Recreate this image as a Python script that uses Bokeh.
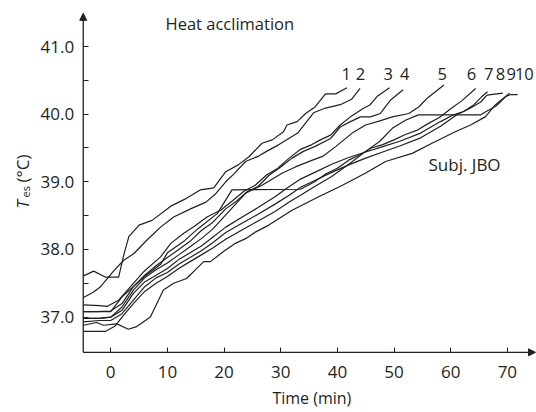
from bokeh.plotting import figure
from bokeh.models import Range1d, FixedTicker, PrintfTickFormatter, Label, Arrow, NormalHead, ColumnDataSource
from bokeh.core.properties import value
from bokeh.embed import file_html
from bokeh.resources import INLINE

# ---- data: time (min) and esophageal temperature (deg C) for 10 heat-acclimation days ----
t1 = [-4.8, -3.0, -0.9, 1.4, 2.4, 3.2, 5.0, 7.3, 10.6, 13.0, 15.8, 18.2, 18.8, 20.3, 22.5, 24.4, 26.7, 28.5, 30.5, 31.1, 32.9, 34.4, 36.1, 37.9, 39.7, 41.7]
T1 = [37.61, 37.68, 37.59, 37.59, 37.95, 38.19, 38.36, 38.43, 38.64, 38.74, 38.88, 38.91, 38.98, 39.15, 39.25, 39.37, 39.57, 39.62, 39.74, 39.84, 39.89, 40.01, 40.11, 40.30, 40.30, 40.39]

t2 = [-4.8, -3.0, -1.8, -0.3, 0.6, 2.3, 4.1, 6.4, 8.8, 11.1, 14.1, 16.8, 18.5, 20.3, 21.8, 23.8, 26.1, 27.5, 29.7, 33.0, 35.8, 37.9, 40.5, 42.5, 44.0]
T2 = [37.29, 37.37, 37.45, 37.60, 37.69, 37.84, 37.94, 38.14, 38.33, 38.48, 38.60, 38.70, 38.82, 39.00, 39.12, 39.30, 39.38, 39.45, 39.55, 39.72, 40.02, 40.09, 40.14, 40.22, 40.38]

t3 = [-4.8, -2.0, -0.6, 1.4, 3.5, 5.8, 8.8, 10.6, 12.9, 14.7, 17.0, 19.4, 21.5, 23.5, 25.5, 27.5, 29.5, 31.5, 33.5, 35.5, 37.0, 38.8, 40.5, 42.3, 44.7, 45.8, 47.0, 49.2]
T3 = [37.18, 37.17, 37.16, 37.25, 37.45, 37.67, 37.89, 38.09, 38.24, 38.34, 38.48, 38.58, 38.72, 38.86, 38.95, 39.10, 39.20, 39.35, 39.48, 39.55, 39.62, 39.69, 39.84, 39.96, 40.09, 40.14, 40.26, 40.39]

t4 = [-4.8, -2.5, 0.0, 2.0, 4.0, 6.0, 8.0, 10.0, 12.0, 14.0, 16.0, 18.0, 20.3, 22.0, 24.0, 26.0, 28.0, 30.0, 32.0, 34.0, 36.0, 38.8, 40.5, 42.3, 44.1, 45.8, 47.6, 49.4, 51.6]
T4 = [37.08, 37.08, 37.09, 37.20, 37.45, 37.62, 37.76, 37.88, 38.00, 38.12, 38.28, 38.40, 38.60, 38.70, 38.85, 38.93, 39.10, 39.22, 39.35, 39.45, 39.52, 39.64, 39.81, 39.89, 39.96, 39.96, 40.01, 40.21, 40.36]

t5 = [-4.8, -2.0, 0.0, 2.0, 4.0, 6.0, 8.0, 10.0, 12.0, 14.0, 16.0, 18.0, 20.3, 23.8, 26.7, 30.3, 32.6, 35.6, 37.5, 39.7, 42.6, 45.0, 47.5, 49.7, 52.6, 54.4, 55.9, 58.8]
T5 = [36.98, 36.98, 37.00, 37.15, 37.40, 37.58, 37.70, 37.80, 37.92, 38.04, 38.16, 38.30, 38.51, 38.83, 38.95, 39.13, 39.22, 39.32, 39.38, 39.52, 39.72, 39.84, 39.90, 39.96, 40.01, 40.11, 40.24, 40.43]

t6 = [-4.8, -2.0, 0.0, 2.0, 4.0, 6.0, 8.8, 10.0, 12.9, 15.3, 18.8, 21.4, 33.5, 36.0, 38.0, 40.0, 42.0, 44.0, 46.0, 48.0, 50.0, 52.0, 54.0, 56.0, 58.0, 60.0, 62.0, 64.4]
T6 = [37.08, 37.08, 37.08, 37.30, 37.45, 37.60, 37.78, 37.95, 38.12, 38.30, 38.53, 38.88, 38.89, 39.00, 39.12, 39.20, 39.32, 39.40, 39.50, 39.55, 39.62, 39.70, 39.76, 39.86, 39.95, 40.08, 40.20, 40.38]

t7 = [-4.8, -2.0, 0.0, 2.0, 4.0, 6.0, 8.0, 10.0, 12.0, 14.0, 16.0, 18.0, 20.3, 23.0, 26.0, 29.0, 31.0, 33.5, 36.0, 39.0, 42.0, 45.0, 48.0, 51.0, 54.7, 58.2, 60.5, 62.3, 64.1, 65.5, 66.5]
T7 = [36.98, 36.98, 37.00, 37.10, 37.35, 37.52, 37.62, 37.72, 37.85, 37.95, 38.05, 38.18, 38.33, 38.47, 38.62, 38.78, 38.90, 39.04, 39.14, 39.26, 39.36, 39.44, 39.52, 39.60, 39.72, 39.89, 39.99, 40.04, 40.14, 40.26, 40.33]

t8 = [-4.8, -2.0, 0.0, 2.0, 4.0, 6.0, 8.0, 10.0, 12.0, 14.0, 16.0, 18.0, 20.3, 23.0, 26.0, 29.0, 31.5, 33.5, 36.0, 39.0, 42.0, 45.0, 48.0, 51.0, 54.7, 58.2, 61.1, 63.5, 65.3, 66.4, 69.2]
T8 = [36.93, 36.95, 36.95, 37.05, 37.25, 37.45, 37.58, 37.66, 37.78, 37.88, 37.98, 38.10, 38.25, 38.38, 38.52, 38.67, 38.80, 38.92, 39.02, 39.14, 39.25, 39.35, 39.44, 39.53, 39.65, 39.82, 39.99, 40.09, 40.18, 40.28, 40.31]

t9 = [-4.8, -2.5, -1.3, 1.1, 3.1, 4.6, 7.0, 9.3, 11.1, 13.4, 15.2, 16.4, 17.6, 19.9, 22.0, 23.8, 25.6, 27.9, 32.0, 36.7, 40.9, 45.0, 48.5, 53.2, 56.7, 60.8, 63.5, 66.1, 67.9, 70.4]
T9 = [36.88, 36.92, 36.88, 36.90, 36.82, 36.86, 37.00, 37.40, 37.50, 37.57, 37.72, 37.82, 37.82, 37.97, 38.09, 38.16, 38.26, 38.36, 38.58, 38.78, 38.95, 39.13, 39.30, 39.42, 39.57, 39.74, 39.84, 39.96, 40.14, 40.31]

t10 = [-4.8, -0.9, 0.8, 2.0, 4.0, 6.0, 8.0, 10.0, 12.0, 14.0, 16.0, 18.0, 20.3, 23.0, 26.0, 29.0, 31.5, 33.5, 36.0, 39.0, 42.0, 45.0, 47.5, 49.7, 52.0, 54.3, 65.3, 66.5, 68.0, 69.7, 70.6, 71.8]
T10 = [36.79, 36.79, 36.87, 37.00, 37.20, 37.38, 37.50, 37.60, 37.72, 37.82, 37.92, 38.02, 38.15, 38.28, 38.42, 38.56, 38.70, 38.80, 38.93, 39.08, 39.26, 39.45, 39.60, 39.79, 39.91, 39.99, 39.99, 40.05, 40.12, 40.26, 40.29, 40.29]

subject_labels = ["1", "2", "3", "4", "5", "6", "7", "8", "9", "10"]
x_ticks = [0, 10, 20, 30, 40, 50, 60, 70]
y_ticks = [37, 38, 39, 40, 41]
y_minor_ticks = [37.5, 38.5, 39.5, 40.5]

series = [(t1, T1), (t2, T2), (t3, T3), (t4, T4), (t5, T5),
          (t6, T6), (t7, T7), (t8, T8), (t9, T9), (t10, T10)]

INK = "#231f20"
FONT = "Open Sans"

# visible ranges (whole canvas is the frame; axes are drawn at fixed locations)
X0, X1 = -19.45, 75.14
Y0, Y1 = 35.59, 41.68
AX_X = -4.85      # where the y axis stands
AX_Y = 36.479     # where the x axis stands
TIP_X = 74.96     # end of the x-axis arrow
TIP_Y = 41.49     # end of the y-axis arrow

p = figure(width=536, height=412, x_range=Range1d(X0, X1), y_range=Range1d(Y0, Y1),
           output_backend="svg", toolbar_location=None,
           min_border_left=0, min_border_right=0, min_border_top=0, min_border_bottom=0)
p.title.visible = False
p.outline_line_color = None
p.xgrid.visible = False
p.ygrid.visible = False
p.background_fill_color = "white"
p.border_fill_color = "white"

p.xaxis.fixed_location = AX_Y
p.yaxis.fixed_location = AX_X

for ax in (p.xaxis, p.yaxis):
    ax.axis_line_color = None
    ax.major_tick_in = 5
    ax.major_tick_out = 0
    ax.minor_tick_in = 5
    ax.minor_tick_out = 0
    ax.major_tick_line_color = INK
    ax.minor_tick_line_color = INK
    ax.major_tick_line_width = 1
    ax.minor_tick_line_width = 1
    ax.major_label_text_font = FONT
    ax.major_label_text_font_size = "17px"
    ax.major_label_text_color = INK

p.xaxis.ticker = FixedTicker(ticks=x_ticks, minor_ticks=[])
p.xaxis.major_label_standoff = 14
p.yaxis.ticker = FixedTicker(ticks=y_ticks, minor_ticks=y_minor_ticks)
p.yaxis.formatter = PrintfTickFormatter(format="%.1f")
p.yaxis.major_label_standoff = 9

# axis lines with arrow heads
p.add_layout(Arrow(end=NormalHead(size=7, fill_color=INK, line_color=INK, line_width=1),
                   x_start=AX_X, y_start=AX_Y, x_end=AX_X, y_end=TIP_Y,
                   line_color=INK, line_width=1.3))
p.add_layout(Arrow(end=NormalHead(size=7, fill_color=INK, line_color=INK, line_width=1),
                   x_start=AX_X, y_start=AX_Y, x_end=TIP_X, y_end=AX_Y,
                   line_color=INK, line_width=1.3))

for tt, TT in series:
    p.line(tt, TT, line_color=INK, line_width=1.2)

# subject numbers above the line ends
label_t = [41.56, 44.08, 48.97, 51.9, 58.5, 63.67, 66.7, 68.8, 70.7, 73.0]
src = ColumnDataSource(dict(x=label_t, y=[40.6] * len(label_t), txt=subject_labels))
p.text(x="x", y="y", text="txt", source=src, text_font=value(FONT), text_font_size="16.5px",
       text_color=INK, text_align="center", text_baseline="middle")

p.add_layout(Label(x=9.67, y=41.334, text="Heat acclimation", text_font=FONT,
                   text_font_size="16.5px", text_color=INK, text_align="left", text_baseline="middle"))
p.add_layout(Label(x=56.08, y=39.26, text="Subj. JBO", text_font=FONT,
                   text_font_size="17px", text_color=INK, text_align="left", text_baseline="middle"))
p.add_layout(Label(x=35.5, y=35.80, text="Time (min)", text_font=FONT,
                   text_font_size="16px", text_color=INK, text_align="center", text_baseline="alphabetic"))

# y-axis title: T_es (°C), rotated
p.add_layout(Label(x=-15.56, y=38.605, text="T", angle=90, angle_units="deg", text_font=FONT,
                   text_font_style="italic", text_font_size="17px", text_color=INK,
                   text_align="left", text_baseline="alphabetic"))
p.add_layout(Label(x=-15.0, y=38.768, text="es", angle=90, angle_units="deg", text_font=FONT,
                   text_font_size="11px", text_color=INK,
                   text_align="left", text_baseline="alphabetic"))
p.add_layout(Label(x=-15.56, y=38.99, text="(°C)", angle=90, angle_units="deg", text_font=FONT,
                   text_font_size="17px", text_color=INK,
                   text_align="left", text_baseline="alphabetic"))

open("out.html", "w").write(file_html(p, INLINE))
